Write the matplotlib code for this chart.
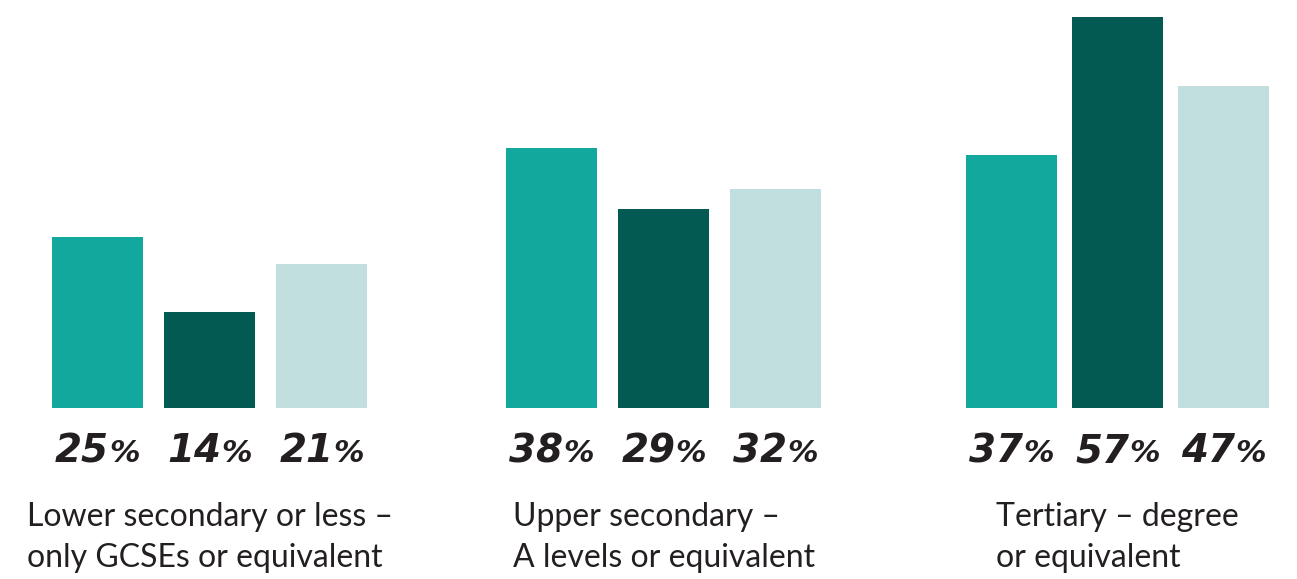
import numpy as np
import matplotlib
matplotlib.use('agg')
import matplotlib.pyplot as plt

# share of each group (percent), three series per education level
categories = ['Lower secondary or less –\nonly GCSEs or equivalent',
              'Upper secondary –\nA levels or equivalent',
              'Tertiary – degree\nor equivalent']
series_a = [25, 38, 37]
series_b = [14, 29, 57]
series_c = [21, 32, 47]

colors = ['#12a89d', '#035a52', '#c1dfde']
text_color = '#231f20'

fig = plt.figure(figsize=(12.97, 5.79), dpi=100)
ax = fig.add_axes([0, 0.2953, 1, 0.710])

x = np.arange(len(categories))
width = 0.2
# bar spacing inside each group (the last group is packed a bit tighter)
steps = np.array([0.247, 0.247, 0.2335])

bars = []
for i, (vals, c) in enumerate(zip([series_a, series_b, series_c], colors)):
    bars.append(ax.bar(x + (i - 1) * steps, vals, width=width, color=c, linewidth=0))

ax.set_xlim(-0.4615, 2.395)
ax.set_ylim(0, 60)
ax.axis('off')

# value labels: big heavy number followed by a smaller percent sign
renderer = fig.canvas.get_renderer()
for bc in bars:
    for rect in bc:
        xc = rect.get_x() + rect.get_width() / 2
        num = ax.annotate('%d' % rect.get_height(), xy=(xc, 0), xytext=(0, -54),
                          textcoords='offset pixels', ha='left', va='baseline',
                          fontsize=28, fontweight='heavy', fontstyle='oblique',
                          family='DejaVu Sans', color=text_color)
        pct = ax.annotate('%', xy=(xc, 0), xytext=(0, -54),
                          textcoords='offset pixels', ha='left', va='baseline',
                          fontsize=22, fontweight='bold', fontstyle='oblique',
                          family='DejaVu Sans', color=text_color)
        w1 = num.get_window_extent(renderer).width
        w2 = pct.get_window_extent(renderer).width
        left = -(w1 + w2) / 2
        num.xyann = (left, -54)
        pct.xyann = (left + w1, -54)

# category names under each group
for xi, name in zip(x, categories):
    ax.annotate(name, xy=(xi, 0), xytext=(0, -94), textcoords='offset pixels',
                ha='center', va='top', multialignment='left',
                fontsize=23, family='Lato', color=text_color, linespacing=1.45)

fig.savefig('out.png', dpi=100)
plt.close(fig)
